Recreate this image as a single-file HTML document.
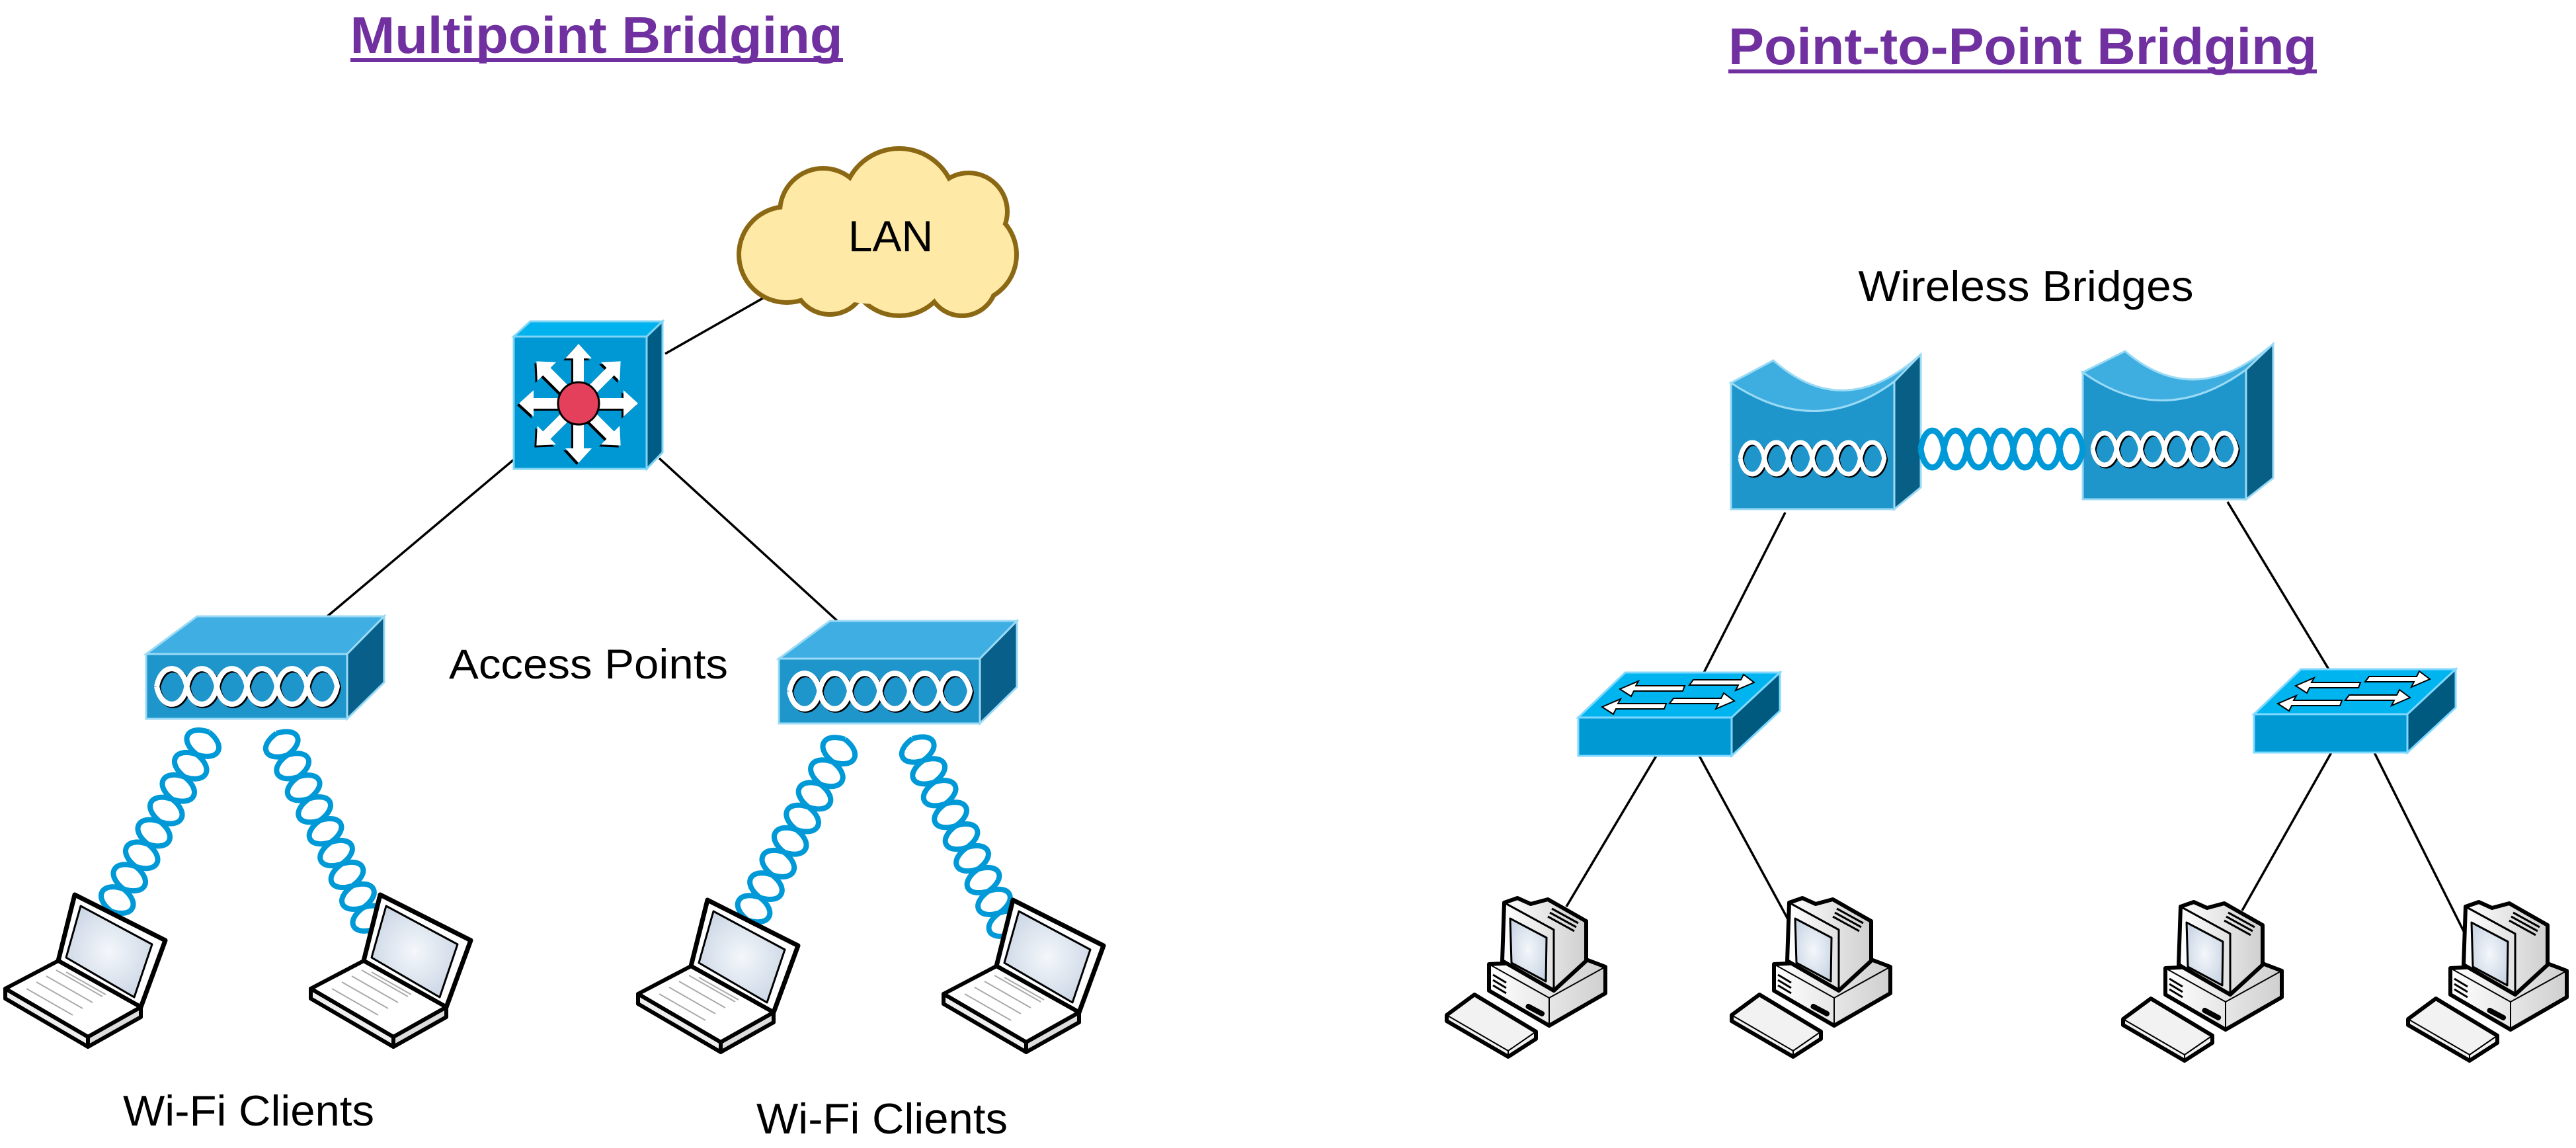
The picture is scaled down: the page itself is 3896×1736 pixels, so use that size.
<!DOCTYPE html>
<html><head><meta charset="utf-8"><style>
html,body{margin:0;padding:0;background:#fff;}
svg{display:block;}
text{font-family:"Liberation Sans",Arial,sans-serif;}
.wd{fill:none;stroke:#fff;stroke-width:8;}
.bd{fill:none;stroke:#000;stroke-width:8;}
.hb{fill:none;stroke:#0099D8;stroke-width:8;}
</style></head><body>
<svg width="3896" height="1736" viewBox="0 0 3896 1736" xmlns="http://www.w3.org/2000/svg" xmlns:xlink="http://www.w3.org/1999/xlink">
<defs>
<path id="lens" vector-effect="non-scaling-stroke" d="M0,0 C0.15,-1.33 0.85,-1.33 1,0 C0.85,1.33 0.15,1.33 0,0"/>
<g id="r6"><use xlink:href="#lens" x="0"/><use xlink:href="#lens" x="1"/><use xlink:href="#lens" x="2"/><use xlink:href="#lens" x="3"/><use xlink:href="#lens" x="4"/><use xlink:href="#lens" x="5"/></g>
<g id="r7"><use xlink:href="#r6"/><use xlink:href="#lens" x="6"/></g>
<g id="r8"><use xlink:href="#r7"/><use xlink:href="#lens" x="7"/></g>
<g id="r9"><use xlink:href="#r8"/><use xlink:href="#lens" x="8"/></g>
<polygon id="arr" points="0,-8 68,-8 68,-20 90,0 68,20 68,8 0,8"/>
<radialGradient id="scr" cx="0.5" cy="0.5" r="0.6"><stop offset="0" stop-color="#f4f7fb"/><stop offset="1" stop-color="#c9d5e4"/></radialGradient>
<linearGradient id="gry" x1="0" y1="0" x2="1" y2="0"><stop offset="0" stop-color="#ffffff"/><stop offset="1" stop-color="#cfcfcf"/></linearGradient>
<g id="laptop" stroke="#000" stroke-linejoin="round">
<polygon points="113,1353 250,1422 213,1523 88,1453" fill="#fff" stroke-width="7"/>
<polygon points="122,1370 230,1428 203,1508 100,1448" fill="url(#scr)" stroke-width="3"/>
<polygon points="88,1453 213,1523 133,1568 8,1495" fill="#fff" stroke-width="6"/>
<polygon points="8,1495 133,1568 133,1583 8,1510" fill="#eee" stroke-width="6"/>
<polygon points="133,1568 213,1523 213,1538 133,1583" fill="#ddd" stroke-width="6"/>
<g stroke="#aaa" stroke-width="2" fill="none">
<path d="M40,1495 l70,40 M55,1485 l70,40 M70,1476 l70,40 M85,1467 l70,40 M100,1470 l60,34"/>
</g>
</g>
<g id="pc" stroke="#000" stroke-linejoin="round">
<polygon points="3275,1464 3422,1457 3451,1468 3451,1508 3366,1557 3275,1504" fill="url(#gry)" stroke-width="6"/>
<polyline points="3275,1464 3366,1515 3451,1468" fill="none" stroke-width="2"/>
<line x1="3366" y1="1515" x2="3366" y2="1557" stroke-width="2"/>
<polygon points="3298,1371 3318,1364 3338,1373 3364,1366 3422,1399 3422,1459 3373,1504 3295,1459" fill="url(#gry)" stroke-width="6"/>
<polyline points="3298,1371 3373,1412 3373,1504" fill="none" stroke-width="3"/>
<polygon points="3307,1395 3362,1424 3361,1490 3309,1462" fill="url(#scr)" stroke-width="3"/>
<path d="M3370,1380 l40,22 M3367,1386 l40,22 M3364,1392 l40,22" stroke-width="3"/>
<path d="M3281,1480 l20,12 M3281,1488 l20,12 M3281,1496 l20,12" stroke-width="3"/>
<rect x="3330" y="1530" width="30" height="7" rx="3" transform="rotate(28 3345 1533)" fill="#000" stroke-width="1"/>
<polygon points="3211,1541 3253,1510 3346,1566 3346,1577 3304,1604 3211,1550" fill="#f2f2f2" stroke-width="6"/>
<polyline points="3211,1541 3304,1595 3346,1566" fill="none" stroke-width="2"/>
<line x1="3304" y1="1595" x2="3304" y2="1604" stroke-width="2"/>
</g>
</defs>

<text x="902" y="80" font-size="78" font-weight="bold" fill="#7030A0" text-anchor="middle" textLength="745" lengthAdjust="spacingAndGlyphs">Multipoint Bridging</text>
<rect x="530" y="88" width="745" height="6" fill="#7030A0"/>
<text x="3059" y="97" font-size="78" font-weight="bold" fill="#7030A0" text-anchor="middle" textLength="890" lengthAdjust="spacingAndGlyphs">Point-to-Point Bridging</text>
<rect x="2614" y="105" width="890" height="6" fill="#7030A0"/>

<g stroke="#000" stroke-width="3.5">
<line x1="1006" y1="535" x2="1173" y2="440"/>
<line x1="777" y1="695" x2="495" y2="932"/>
<line x1="997" y1="693" x2="1272" y2="944"/>
<line x1="2700" y1="775" x2="2577" y2="1017"/>
<line x1="3369" y1="759" x2="3522" y2="1012"/>
<line x1="2505" y1="1143" x2="2369" y2="1371"/>
<line x1="2570" y1="1143" x2="2741" y2="1458"/>
<line x1="3526" y1="1138" x2="3391" y2="1377"/>
<line x1="3591" y1="1138" x2="3764" y2="1484"/>
</g>

<g fill="#FFE9A6" stroke="#8B6914" stroke-width="8">
<circle cx="1360" cy="310" r="85"/><circle cx="1245" cy="320" r="65"/><circle cx="1465" cy="320" r="58"/>
<circle cx="1190" cy="385" r="72"/><circle cx="1465" cy="385" r="72"/><circle cx="1255" cy="420" r="55"/>
<circle cx="1360" cy="400" r="77"/><circle cx="1455" cy="425" r="52"/>
</g>
<g fill="#FFE9A6">
<circle cx="1360" cy="310" r="82"/><circle cx="1245" cy="320" r="62"/><circle cx="1465" cy="320" r="55"/>
<circle cx="1190" cy="385" r="69"/><circle cx="1465" cy="385" r="69"/><circle cx="1255" cy="420" r="52"/>
<circle cx="1360" cy="400" r="74"/><circle cx="1455" cy="425" r="49"/>
<ellipse cx="1330" cy="370" rx="150" ry="90"/>
</g>
<text x="1347" y="380" font-size="66" text-anchor="middle">LAN</text>

<g stroke="#7FD4F5" stroke-width="3">
<polygon points="777,509 802,486 1002,486 978,509" fill="#00B2EE"/>
<polygon points="978,509 1002,486 1002,684 978,709" fill="#005C85"/>
<rect x="777" y="509" width="201" height="200" fill="#0098D4"/>
</g>
<g transform="translate(872,613)" fill="#000">
<use xlink:href="#arr"/><use xlink:href="#arr" transform="rotate(45)"/><use xlink:href="#arr" transform="rotate(90)"/><use xlink:href="#arr" transform="rotate(135)"/><use xlink:href="#arr" transform="rotate(180)"/><use xlink:href="#arr" transform="rotate(225)"/><use xlink:href="#arr" transform="rotate(270)"/><use xlink:href="#arr" transform="rotate(315)"/>
</g>
<g transform="translate(875,610)" fill="#fff">
<use xlink:href="#arr"/><use xlink:href="#arr" transform="rotate(45)"/><use xlink:href="#arr" transform="rotate(90)"/><use xlink:href="#arr" transform="rotate(135)"/><use xlink:href="#arr" transform="rotate(180)"/><use xlink:href="#arr" transform="rotate(225)"/><use xlink:href="#arr" transform="rotate(270)"/><use xlink:href="#arr" transform="rotate(315)"/>
</g>
<ellipse cx="875" cy="610" rx="31" ry="32" fill="#E4405C" stroke="#000" stroke-width="3"/>

<g stroke="#9ADAF5" stroke-width="3">
<polygon points="221,989 298,932 581,932 525,989" fill="#3FAEE2"/>
<polygon points="525,989 581,932 581,1032 525,1087" fill="#08608A"/>
<rect x="221" y="989" width="304" height="98" fill="#1E95CB"/>
</g>
<g stroke="#9ADAF5" stroke-width="3" transform="translate(957,7)">
<polygon points="221,989 298,932 581,932 525,989" fill="#3FAEE2"/>
<polygon points="525,989 581,932 581,1032 525,1087" fill="#08608A"/>
<rect x="221" y="989" width="304" height="98" fill="#1E95CB"/>
</g>
<text x="890" y="1026" font-size="63" text-anchor="middle" textLength="422" lengthAdjust="spacingAndGlyphs">Access Points</text>

<g stroke="#9ADAF5" stroke-width="3">
<path d="M2618,579 L2682,545 Q2789,640 2905,536 L2865,577 Q2746,665 2618,579 Z" fill="#3EAEE0"/>
<path d="M2865,577 L2905,536 L2905,737 L2865,770 Z" fill="#075F85"/>
<path d="M2618,579 Q2746,665 2865,577 L2865,770 L2618,770 Z" fill="#1E96CC"/>
<path d="M3150,563 L3214,531 Q3320,622 3438,520 L3397,559 Q3272,650 3150,563 Z" fill="#3EAEE0"/>
<path d="M3397,559 L3438,520 L3438,723 L3397,755 Z" fill="#075F85"/>
<path d="M3150,563 Q3272,650 3397,559 L3397,755 L3150,755 Z" fill="#1E96CC"/>
</g>
<text x="3064" y="455" font-size="65" text-anchor="middle" textLength="507" lengthAdjust="spacingAndGlyphs">Wireless Bridges</text>

<g class="bd" transform="translate(239,1040) scale(45.5,27)"><use xlink:href="#r6"/></g>
<g class="wd" transform="translate(237,1038) scale(45.5,27)"><use xlink:href="#r6"/></g>
<g class="bd" transform="translate(1196,1047) scale(45.5,27)"><use xlink:href="#r6"/></g>
<g class="wd" transform="translate(1194,1045) scale(45.5,27)"><use xlink:href="#r6"/></g>
<g class="bd" style="stroke-width:7" transform="translate(2634,695) scale(36.3,24)"><use xlink:href="#r6"/></g>
<g class="wd" style="stroke-width:7" transform="translate(2632,693) scale(36.3,24)"><use xlink:href="#r6"/></g>
<g class="bd" style="stroke-width:7" transform="translate(3167,681) scale(36.2,24)"><use xlink:href="#r6"/></g>
<g class="wd" style="stroke-width:7" transform="translate(3165,679) scale(36.2,24)"><use xlink:href="#r6"/></g>
<g class="hb" style="stroke-width:9" transform="translate(2905,679) scale(35,28)"><use xlink:href="#r7"/></g>

<g class="hb" transform="translate(316,1107) rotate(118.64) scale(38.6,26)"><use xlink:href="#r8"/></g>
<g class="hb" transform="translate(418,1109) rotate(63.43) scale(36.8,26)"><use xlink:href="#r9"/></g>
<g class="hb" transform="translate(1278,1118) rotate(118.3) scale(38.8,26)"><use xlink:href="#r8"/></g>
<g class="hb" transform="translate(1380,1117) rotate(63.43) scale(36.8,26)"><use xlink:href="#r9"/></g>

<g id="sw1">
<g stroke="#7FD8FF" stroke-width="3">
<polygon points="2387,1085 2458,1017 2692,1017 2619,1085" fill="#00B4F0"/>
<polygon points="2619,1085 2692,1017 2692,1075 2619,1143" fill="#005A80"/>
<rect x="2387" y="1085" width="232" height="58" fill="#0099D4"/>
</g>
<g fill="#fff" stroke="#000" stroke-width="2">
<polygon points="2450,1042 2478,1030 2474,1037 2548,1037 2545,1045 2471,1045 2467,1053"/>
<polygon points="2423,1069 2451,1057 2447,1064 2520,1064 2517,1072 2444,1072 2440,1080"/>
<polygon points="2653,1032 2625,1044 2629,1036 2555,1036 2561,1028 2633,1028 2637,1020"/>
<polygon points="2623,1060 2595,1072 2599,1064 2525,1064 2531,1056 2603,1056 2607,1048"/>
</g>
</g>
<use xlink:href="#sw1" transform="translate(1022,-5)"/>

<use xlink:href="#laptop"/>
<use xlink:href="#laptop" transform="translate(462,0)"/>
<use xlink:href="#laptop" transform="translate(957,8)"/>
<use xlink:href="#laptop" transform="translate(1419,8)"/>

<use xlink:href="#pc" transform="translate(-1023,-6)"/>
<use xlink:href="#pc" transform="translate(-592,-6)"/>
<use xlink:href="#pc"/>
<use xlink:href="#pc" transform="translate(431,0)"/>

<text x="376" y="1702" font-size="65" text-anchor="middle" textLength="380" lengthAdjust="spacingAndGlyphs">Wi-Fi Clients</text>
<text x="1334" y="1714" font-size="65" text-anchor="middle" textLength="380" lengthAdjust="spacingAndGlyphs">Wi-Fi Clients</text>
</svg>
</body></html>
